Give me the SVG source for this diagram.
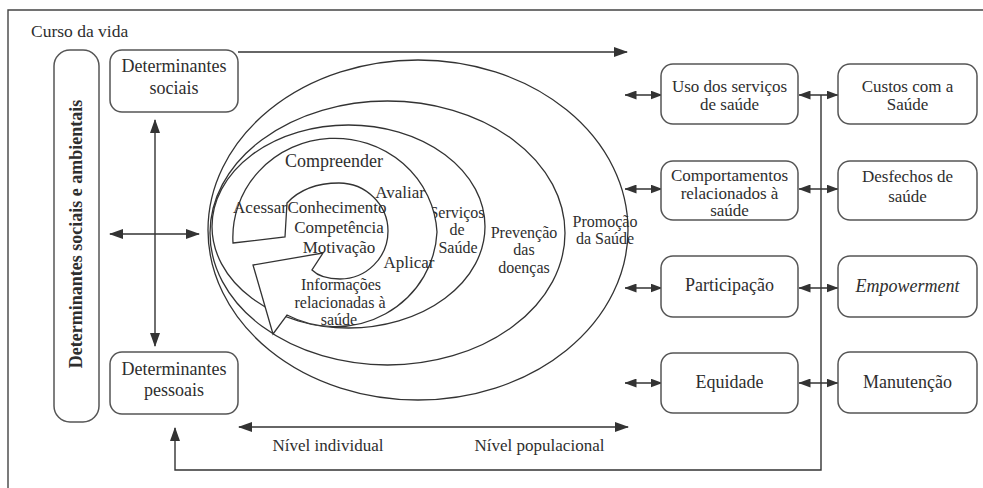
<svg xmlns="http://www.w3.org/2000/svg" width="983" height="488" viewBox="0 0 983 488">
<style>
text{font-family:"Liberation Serif","Times New Roman",serif;fill:#2e2e2e;}
.b{font-size:18px;text-anchor:middle;}
.m{font-size:17px;text-anchor:middle;}
.s{font-size:17px;text-anchor:middle;}
.t{font-size:16px;text-anchor:middle;}
.box{fill:#fff;stroke:#555;stroke-width:1.5;}
.ell{fill:none;stroke:#333;stroke-width:1.3;}
.ln{fill:none;stroke:#333;stroke-width:1.4;}
.frame{fill:none;stroke:#444;stroke-width:1.4;}
</style>
<defs>
<marker id="ah" viewBox="0 0 14 10" refX="13" refY="5" markerWidth="14" markerHeight="10" markerUnits="userSpaceOnUse" orient="auto-start-reverse"><path d="M0,0 L14,5 L0,10 z" fill="#333"/></marker>
<marker id="as" viewBox="0 0 12 9" refX="11.5" refY="4.5" markerWidth="12" markerHeight="9" markerUnits="userSpaceOnUse" orient="auto-start-reverse"><path d="M0,0 L12,4.5 L0,9 z" fill="#333"/></marker>
</defs>
<rect width="983" height="488" fill="#fff"/>
<path class="frame" d="M8,488 V10 H983"/>
<text x="31" y="37" style="font-size:17.5px">Curso da vida</text>

<g id="connectors">
<line class="ln" x1="238" y1="52" x2="627" y2="52" marker-end="url(#ah)"/>
<line class="ln" x1="155" y1="120" x2="155" y2="346" marker-start="url(#ah)" marker-end="url(#ah)"/>
<line class="ln" x1="110" y1="234" x2="199" y2="234" marker-start="url(#ah)" marker-end="url(#ah)"/>
<line class="ln" x1="239" y1="427" x2="628" y2="427" marker-start="url(#ah)" marker-end="url(#ah)"/>
<path class="ln" d="M821,95 V470 H175 V428" marker-end="url(#ah)"/>
<line class="ln" x1="625" y1="95" x2="662" y2="95" marker-start="url(#as)" marker-end="url(#as)"/>
<line class="ln" x1="625" y1="189" x2="662" y2="189" marker-start="url(#as)" marker-end="url(#as)"/>
<line class="ln" x1="625" y1="288" x2="662" y2="288" marker-start="url(#as)" marker-end="url(#as)"/>
<line class="ln" x1="625" y1="383" x2="662" y2="383" marker-start="url(#as)" marker-end="url(#as)"/>
<line class="ln" x1="799" y1="95" x2="838" y2="95" marker-start="url(#as)" marker-end="url(#as)"/>
<line class="ln" x1="799" y1="189" x2="838" y2="189" marker-start="url(#as)" marker-end="url(#as)"/>
<line class="ln" x1="799" y1="288" x2="838" y2="288" marker-start="url(#as)" marker-end="url(#as)"/>
<line class="ln" x1="799" y1="383" x2="838" y2="383" marker-start="url(#as)" marker-end="url(#as)"/>
</g>

<g id="n-ambientais">
<rect class="box" x="54" y="50" width="45" height="372" rx="16"/>
<text transform="translate(82,234) rotate(-90)" style="font-size:18px;font-weight:bold;text-anchor:middle">Determinantes sociais e ambientais</text>
</g>
<g id="n-sociais">
<rect class="box" x="110" y="50" width="128" height="62" rx="12"/>
<text class="b" x="174" y="72">Determinantes</text>
<text class="b" x="174" y="94">sociais</text>
</g>
<g id="n-pessoais">
<rect class="box" x="110" y="352" width="128" height="62" rx="12"/>
<text class="b" x="174" y="375">Determinantes</text>
<text class="b" x="174" y="396">pessoais</text>
</g>

<g id="n-promocao">
<ellipse class="ell" cx="418" cy="230" rx="210" ry="170"/>
<text class="t" x="605" y="226.5">Promoção</text>
<text class="t" x="605" y="244">da Saúde</text>
</g>
<g id="n-prevencao">
<ellipse class="ell" cx="387.5" cy="233" rx="177.5" ry="132"/>
<text class="t" x="524" y="237.5">Prevenção</text>
<text class="t" x="524" y="255">das</text>
<text class="t" x="524" y="272.5">doenças</text>
</g>
<g id="n-servicos">
<ellipse class="ell" cx="348.5" cy="226.5" rx="136.5" ry="101.5"/>
<text class="t" x="457" y="217.5">Serviços</text>
<text class="t" x="457" y="235">de</text>
<text class="t" x="458" y="252.5">Saúde</text>
</g>
<g id="n-espiral">
<path d="M233,243 L285,237 L287,203 C300,189 318,183 339,183 C366,183 388,205 388,231 C388,258 366,279 340,279 C328,279 318,276 312,270 L323,253 L253,265 L273,334 L287,315 A102 99 0 0 0 437,232 A102 99 0 1 0 233,243 Z" fill="#fff" stroke="#333" stroke-width="1.3" stroke-linejoin="miter"/>
<text x="334" y="167" style="font-size:18px;text-anchor:middle">Compreender</text>
<text class="s" x="260" y="213">Acessar</text>
<text class="s" x="400" y="198">Avaliar</text>
<text class="s" x="409" y="268">Aplicar</text>
<text class="s" x="337" y="213">Conhecimento</text>
<text class="s" x="339" y="233">Competência</text>
<text class="s" x="339" y="253">Motivação</text>
<text class="t" x="341" y="290">Informações</text>
<text class="t" x="340" y="307.5">relacionadas à</text>
<text class="t" x="339" y="325">saúde</text>
</g>

<g id="n-uso">
<rect class="box" x="661" y="64" width="137" height="60" rx="12"/>
<text class="m" x="729.5" y="92">Uso dos serviços</text>
<text class="m" x="729.5" y="110">de saúde</text>
</g>
<g id="n-comportamentos">
<rect class="box" x="661" y="161" width="137" height="59" rx="12"/>
<text class="m" x="729.5" y="181">Comportamentos</text>
<text class="m" x="729.5" y="198.5">relacionados à</text>
<text class="m" x="729.5" y="216">saúde</text>
</g>
<g id="n-participacao">
<rect class="box" x="661" y="256" width="137" height="61" rx="12"/>
<text class="b" x="729.5" y="291">Participação</text>
</g>
<g id="n-equidade">
<rect class="box" x="661" y="353" width="137" height="60" rx="12"/>
<text class="b" x="729.5" y="388">Equidade</text>
</g>
<g id="n-custos">
<rect class="box" x="838" y="64" width="139" height="60" rx="12"/>
<text class="m" x="907.5" y="92">Custos com a</text>
<text class="m" x="907.5" y="110">Saúde</text>
</g>
<g id="n-desfechos">
<rect class="box" x="838" y="161" width="139" height="59" rx="12"/>
<text class="m" x="907.5" y="182">Desfechos de</text>
<text class="m" x="907.5" y="202">saúde</text>
</g>
<g id="n-empowerment">
<rect class="box" x="838" y="256" width="139" height="61" rx="12"/>
<text class="b" x="907.5" y="292" style="font-style:italic">Empowerment</text>
</g>
<g id="n-manutencao">
<rect class="box" x="838" y="352" width="139" height="61" rx="12"/>
<text class="b" x="907.5" y="388">Manutenção</text>
</g>

<g id="labels">
<text class="s" x="328" y="451">Nível individual</text>
<text class="s" x="539.5" y="451">Nível populacional</text>
</g>
</svg>
